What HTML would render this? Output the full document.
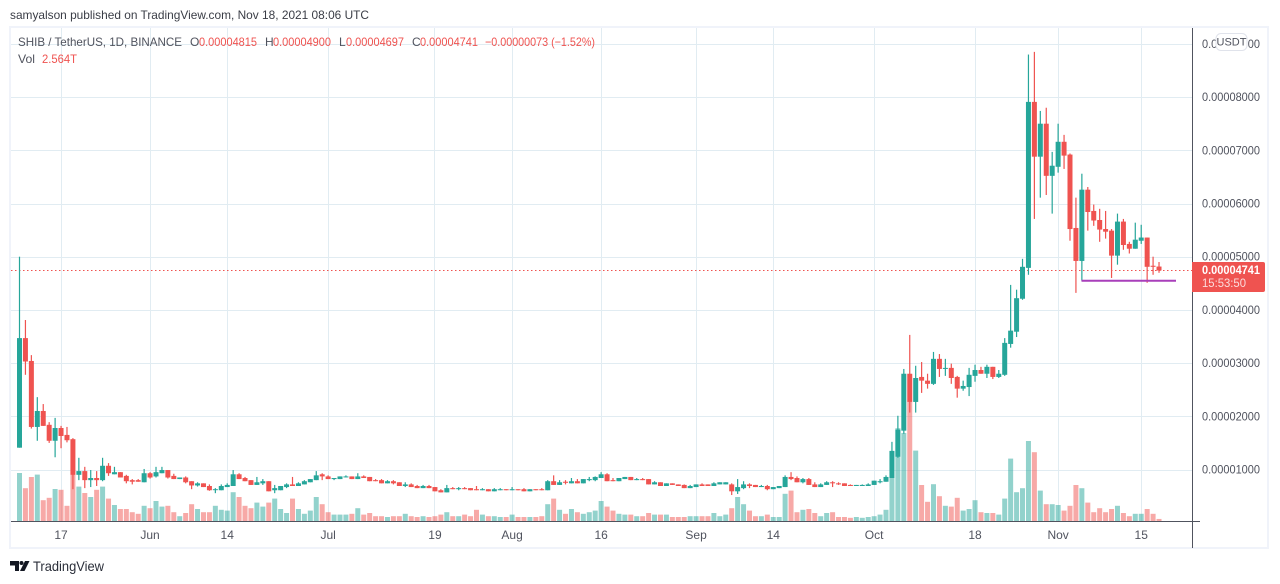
<!DOCTYPE html>
<html lang="en">
<head>
<meta charset="utf-8">
<title>SHIB / TetherUS chart</title>
<style>
html,body{margin:0;padding:0;background:#fff;width:1280px;height:584px;overflow:hidden}
svg{display:block;font-family:"Liberation Sans",Arial,sans-serif}
</style>
</head>
<body>
<svg id="chart" xmlns="http://www.w3.org/2000/svg" width="1280" height="584" viewBox="0 0 1280 584">
  <text x="10" y="19" font-size="12" fill="#3a3d46" textLength="359" lengthAdjust="spacingAndGlyphs">samyalson published on TradingView.com, Nov 18, 2021 08:06 UTC</text>
  <rect x="10" y="27" width="1258" height="521" fill="#fff" stroke="#f0f3fa" stroke-width="2"/>
  <g id="grid"></g>
  <g id="volumes"></g>
  <line id="lastLine" x1="11" x2="1192" stroke="#ef5350" stroke-width="1" stroke-dasharray="1.5 2.5"/>
  <g id="candles"></g>
  <line x1="1081.5" y1="280.7" x2="1176" y2="280.7" stroke="#a83fba" stroke-width="2"/>
  <line x1="11" y1="521.5" x2="1200" y2="521.5" stroke="#50535e" stroke-width="1"/>
  <line x1="1192.5" y1="28" x2="1192.5" y2="548" stroke="#50535e" stroke-width="1"/>
  <g id="timeLabels"></g>
  <g id="priceLabels"></g>

  <g font-size="12">
    <text x="18" y="46" fill="#50535e" textLength="164" lengthAdjust="spacingAndGlyphs">SHIB / TetherUS, 1D, BINANCE</text>
    <text x="190" y="46" fill="#50535e">O</text>
    <text x="199" y="46" fill="#ef5350" textLength="58" lengthAdjust="spacingAndGlyphs">0.00004815</text>
    <text x="265" y="46" fill="#50535e">H</text>
    <text x="273" y="46" fill="#ef5350" textLength="58" lengthAdjust="spacingAndGlyphs">0.00004900</text>
    <text x="339" y="46" fill="#50535e">L</text>
    <text x="346" y="46" fill="#ef5350" textLength="58" lengthAdjust="spacingAndGlyphs">0.00004697</text>
    <text x="412" y="46" fill="#50535e">C</text>
    <text x="420" y="46" fill="#ef5350" textLength="58" lengthAdjust="spacingAndGlyphs">0.00004741</text>
    <text x="485" y="46" fill="#ef5350" textLength="110" lengthAdjust="spacingAndGlyphs">−0.00000073 (−1.52%)</text>
    <text x="18" y="63" fill="#50535e" textLength="17" lengthAdjust="spacingAndGlyphs">Vol</text>
    <text x="42" y="63" fill="#ef5350" textLength="35" lengthAdjust="spacingAndGlyphs">2.564T</text>
  </g>

  <g>
    <rect x="1216" y="33.5" width="31" height="17" rx="5" fill="#fff" stroke="#e0e3eb"/>
    <text x="1231.5" y="45.5" font-size="11" fill="#50535e" text-anchor="middle">USDT</text>
  </g>

  <g>
    <path d="M1192 262H1263a2 2 0 0 1 2 2V290a2 2 0 0 1-2 2H1192Z" fill="#ef5350"/>
    <text x="1202" y="274" font-size="12" font-weight="bold" fill="#fff" textLength="58" lengthAdjust="spacingAndGlyphs">0.00004741</text>
    <text x="1202" y="287" font-size="11.5" fill="#fbdcdc" textLength="44" lengthAdjust="spacingAndGlyphs">15:53:50</text>
  </g>

  <a>
    <path d="M10 561H19V571H15V565.5H10Z M25 561H29.5L24.5 571H20Z" fill="#131722"/>
    <circle cx="21.5" cy="563" r="2" fill="#131722"/>
    <text x="33" y="571" font-size="14" fill="#2a2e39" textLength="71" lengthAdjust="spacingAndGlyphs">TradingView</text>
  </a>
</svg>
<script>
// Prices are in units of 0.00001 USDT; volumes in trillions (T). First bar is day 0 (10 May 2021).
var opens = [
1.41,3.47,3.04,1.80,2.10,1.84,1.54,1.78,1.65,1.57,
.90,.97,.80,.84,.80,1.07,.91,.95,.88,.80,
.80,.76,.93,.87,.93,.99,.88,.82,.85,.78,
.70,.74,.69,.62,.61,.67,.69,.91,.84,.80,
.71,.74,.78,.61,.61,.67,.72,.69,.72,.76,
.80,.91,.87,.82,.82,.86,.87,.82,.87,.86,
.80,.80,.74,.78,.76,.69,.72,.69,.65,.69,
.67,.61,.57,.65,.63,.65,.65,.63,.61,.63,
.59,.61,.63,.61,.63,.63,.59,.63,.63,.61,
.78,.71,.77,.74,.78,.74,.80,.80,.84,.91,
.80,.78,.82,.86,.80,.82,.82,.72,.76,.69,
.74,.72,.71,.65,.67,.72,.72,.69,.72,.72,
.72,.59,.65,.72,.71,.67,.69,.63,.65,.67,
.86,.84,.76,.82,.72,.67,.71,.76,.74,.74,
.71,.69,.69,.69,.71,.76,.77,.84,1.24,1.73,
2.80,2.27,2.74,2.67,2.61,3.08,2.89,2.91,2.74,2.52,
2.55,2.76,2.87,2.80,2.93,2.74,2.78,3.36,3.59,4.21,
4.79,7.91,6.88,7.50,6.52,6.69,7.16,6.92,5.54,4.92,
6.26,5.86,5.69,5.52,5.49,5.02,5.66,5.24,5.15,5.30,
5.36,4.83,4.815];
var highs = [
5.00,3.81,3.15,2.36,2.23,1.89,1.97,1.82,1.80,1.59,
1.22,1.05,.99,.97,1.22,1.12,1.05,.95,.90,.82,
.82,1.01,.95,1.05,1.05,.99,.92,.85,.87,.78,
.76,.74,.72,.65,.72,.74,.99,.93,.86,.80,
.86,.82,.78,.71,.69,.74,.86,.76,.80,.82,
.97,.93,.89,.84,.87,.89,.87,.93,.89,.86,
.82,.82,.80,.80,.76,.76,.74,.71,.71,.71,
.67,.63,.71,.67,.67,.67,.65,.69,.65,.63,
.65,.65,.63,.67,.63,.65,.63,.63,.65,.80,
.89,.80,.80,.84,.82,.82,.86,.87,.95,.93,
.84,.84,.86,.86,.84,.84,.82,.78,.76,.74,
.74,.72,.72,.71,.72,.74,.72,.76,.76,.76,
.74,.82,.78,.74,.71,.71,.71,.67,.69,.89,
.95,.87,.84,.84,.76,.74,.78,.78,.76,.74,
.72,.71,.72,.74,.79,.82,.89,1.52,2.01,2.89,
3.53,2.95,3.02,2.80,3.21,3.17,3.08,2.99,2.76,2.67,
2.91,2.97,2.93,2.97,2.93,2.87,3.47,4.47,4.38,4.96,
8.80,8.85,7.74,7.80,6.97,7.50,7.29,6.94,6.11,6.56,
6.31,5.98,5.90,5.86,5.52,5.81,5.71,5.28,5.64,5.60,
5.36,5.00,4.90];
var lows = [
1.41,2.78,1.77,1.54,1.82,1.50,1.23,1.40,1.51,.63,
.80,.65,.67,.69,.78,.88,.91,.85,.74,.72,
.77,.76,.83,.85,.93,.83,.82,.82,.74,.63,
.68,.67,.60,.555,.61,.67,.69,.82,.78,.71,
.71,.71,.59,.555,.61,.65,.69,.69,.72,.76,
.80,.80,.82,.80,.82,.85,.82,.82,.84,.78,
.78,.74,.74,.72,.69,.67,.67,.65,.65,.65,
.59,.57,.57,.63,.61,.63,.61,.61,.61,.59,
.59,.61,.61,.61,.61,.59,.59,.61,.61,.61,
.71,.71,.72,.74,.74,.74,.78,.78,.84,.78,
.78,.78,.82,.80,.80,.80,.72,.72,.69,.69,
.71,.69,.65,.65,.67,.69,.69,.69,.72,.72,
.52,.54,.63,.65,.67,.67,.61,.63,.65,.67,
.80,.76,.74,.71,.67,.67,.71,.67,.71,.69,
.69,.69,.69,.69,.71,.74,.77,.84,1.22,1.67,
2.07,2.07,2.44,2.52,2.59,2.74,2.76,2.61,2.35,2.48,
2.38,2.65,2.80,2.72,2.70,2.72,2.76,3.29,3.49,4.19,
4.66,5.71,6.11,6.16,5.81,6.58,6.65,5.30,4.32,4.55,
5.49,5.58,5.28,5.34,4.60,4.85,5.13,5.06,5.15,5.24,
4.51,4.66,4.697];
var closes = [
3.47,3.03,1.80,2.10,1.82,1.54,1.78,1.63,1.55,.90,
.97,.80,.84,.80,1.07,.93,.95,.85,.78,.77,
.77,.93,.85,.95,.99,.85,.82,.85,.76,.70,
.74,.67,.61,.63,.69,.71,.91,.82,.78,.71,
.76,.78,.59,.65,.69,.72,.69,.74,.78,.82,
.89,.87,.82,.84,.87,.87,.82,.87,.84,.78,
.78,.74,.78,.74,.69,.72,.67,.65,.69,.65,
.59,.57,.65,.63,.65,.63,.61,.61,.63,.59,
.63,.63,.61,.63,.61,.59,.63,.61,.61,.78,
.71,.76,.75,.78,.74,.82,.82,.86,.91,.78,
.78,.84,.86,.80,.82,.80,.72,.76,.69,.74,
.71,.69,.65,.69,.72,.69,.69,.74,.76,.76,
.59,.67,.72,.69,.67,.69,.63,.67,.69,.86,
.82,.76,.82,.71,.67,.72,.76,.74,.72,.69,
.69,.71,.71,.72,.79,.78,.86,1.35,1.75,2.80,
2.27,2.72,2.67,2.61,3.08,2.89,2.91,2.72,2.52,2.57,
2.78,2.87,2.80,2.93,2.74,2.80,3.38,3.61,4.22,4.81,
7.91,6.88,7.50,6.52,6.71,7.16,6.90,5.52,4.92,6.26,
5.84,5.68,5.51,5.47,5.02,5.66,5.22,5.15,5.32,5.36,
4.81,4.81,4.741];
var volumes = [
60,41,55,58,26,29,40,39,19,58,
43,35,30,39,43,28,20,15,15,11,
9,19,16,25,18,19,11,6,10,21,
15,11,11,19,14,13,36,30,19,16,
23,18,23,28,15,10,28,15,9,13,
30,21,11,8,8,8,9,16,8,10,
6,6,5,6,6,9,6,5,6,5,
6,8,11,6,6,8,6,14,8,6,
6,5,5,8,5,5,5,5,6,21,
28,14,9,15,11,9,11,13,25,18,
13,9,8,8,6,6,10,8,8,8,
5,5,5,6,6,6,6,10,6,8,
16,30,21,13,6,6,8,5,5,34,
38,11,14,15,10,6,10,11,5,5,
4,5,4,5,6,8,14,54,116,110,
149,88,45,24,46,31,19,18,29,13,
15,26,11,10,10,8,28,78,36,41,
100,86,38,21,21,20,13,19,45,41,
23,11,16,11,15,19,10,6,9,9,
15,9,2.564];
var timeTickDays = [7,22,35,52,70,83,98,114,127,144,161,175,189];
var timeTickLabels = ["17","Jun","14","Jul","19","Aug","16","Sep","14","Oct","18","Nov","15"];
var priceTicks = [1,2,3,4,5,6,7,8,9];
var priceTickLabels = ["0.00001000","0.00002000","0.00003000","0.00004000","0.00005000","0.00006000","0.00007000","0.00008000","0.00009000"];
var lastPrice = 4.741;

var NS = "http://www.w3.org/2000/svg";
function xScale(day){ return 19.5 + 5.935 * day; }
function yScale(price){ return 522.7 - 53.2 * price; }
function volHeight(v){ return v * 0.8; }
function make(tag, parent, attrs){
  var el = document.createElementNS(NS, tag);
  for (var k in attrs) el.setAttribute(k, attrs[k]);
  parent.appendChild(el);
  return el;
}
var gridG = document.getElementById("grid");
var volG = document.getElementById("volumes");
var candleG = document.getElementById("candles");
var timeG = document.getElementById("timeLabels");
var priceG = document.getElementById("priceLabels");

priceTicks.forEach(function(p, i){
  var y = Math.round(yScale(p)) + 0.5;
  var g = make("line", gridG, {x1:11, x2:1192, y1:y, y2:y, stroke:"#e1ecf2", "stroke-width":1});
  
  
  var t = make("text", priceG, {x:1202, y:yScale(p)+4, "font-size":12, fill:"#50535e", textLength:58, lengthAdjust:"spacingAndGlyphs"});
  t.textContent = priceTickLabels[i];
  
  
});
timeTickDays.forEach(function(d, i){
  var x = Math.floor(xScale(d)) + 0.5;
  var g = make("line", gridG, {x1:x, x2:x, y1:28, y2:521, stroke:"#e1ecf2", "stroke-width":1});
  
  
  var t = make("text", timeG, {x:xScale(d), y:539, "font-size":12, fill:"#50535e", "text-anchor":"middle"});
  t.textContent = timeTickLabels[i];
  
  
});
var lastLine = document.getElementById("lastLine");
lastLine.setAttribute("y1", yScale(lastPrice));
lastLine.setAttribute("y2", yScale(lastPrice));

closes.forEach(function(c, i){
  var o = opens[i], up = c >= o, col = up ? "#26a69a" : "#ef5350";
  var x = xScale(i);
  var h = Math.max(volHeight(volumes[i]), 1);
  var vb = make("rect", volG, {x:x-2.5, y:521-h, width:5, height:h, fill:col, "fill-opacity":0.5});
  
  
  var w = make("rect", candleG, {x:x-0.6, y:yScale(highs[i]), width:1.2, height:Math.max(yScale(lows[i])-yScale(highs[i]),1), fill:col});
  
  
  var top = yScale(Math.max(o, c)), bh = Math.max(yScale(Math.min(o, c)) - top, 1);
  var b = make("rect", candleG, {x:x-2.5, y:top, width:5, height:bh, fill:col});
  
  
});
</script>
</body>
</html>
